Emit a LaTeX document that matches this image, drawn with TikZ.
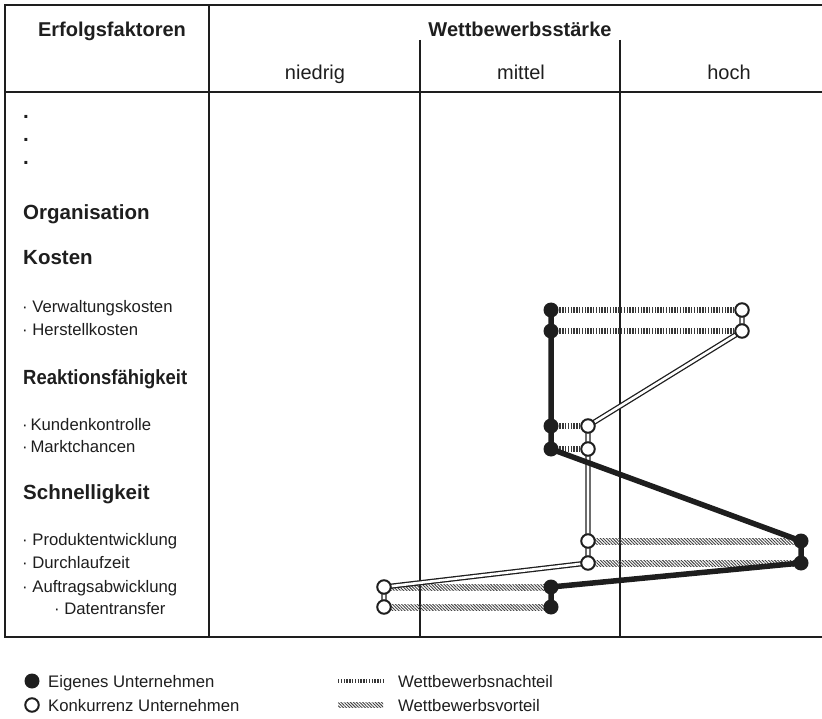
\documentclass[tikz,border=0pt]{standalone}
\usepackage{fontspec}
\setmainfont{Liberation Sans}
\usetikzlibrary{patterns.meta}
\definecolor{ink}{HTML}{1E1E1E}
\newcommand\hdrfont{\fontsize{20}{24}\selectfont\bfseries}
\newcommand\colfont{\fontsize{20}{24}\selectfont}
\newcommand\catfont{\fontsize{20.5}{24}\selectfont\bfseries}
\newcommand\itmfont{\fontsize{16.7}{20}\selectfont}
\tikzset{
  frame/.style={line width=2pt, ink},
  gridline/.style={line width=1.6pt, ink},
  txt/.style={inner sep=0pt, anchor=base west, text=ink},
  ctxt/.style={inner sep=0pt, anchor=base, text=ink},
  own/.style={circle, fill=ink, inner sep=0pt, minimum size=15pt},
  comp/.style={circle, draw=ink, fill=white, line width=2pt, inner sep=0pt, minimum size=13.5pt},
  ownline/.style={line width=5.5pt, ink},
  compline/.style={draw=ink, line width=1.3pt, double=white, double distance=2.6pt},
  nachteil/.style={line width=6pt, dash pattern=on 1.3pt off 1.5pt, black!78},
  vorteil/.style={pattern={Lines[angle=-45,distance=2.2pt,line width=0.9pt]}, pattern color=black!75},
}
\begin{document}
\begin{tikzpicture}[x=1pt,y=-1pt]
\useasboundingbox (0,0) rectangle (822,719);
% table
\draw[frame] (823,5) -- (5,5) -- (5,637) -- (823,637);
\draw[frame] (5,92) -- (823,92);
\draw[gridline] (209,5) -- (209,637);
\draw[gridline] (420,40) -- (420,637);
\draw[gridline] (620,40) -- (620,637);
% header
\node[ctxt, font=\hdrfont] (h1) at (112,37) {Erfolgsfaktoren};
\node[ctxt, font=\hdrfont] (h2) at (520,37) {Wettbewerbsstärke};
\node[ctxt, font=\colfont] (c1) at (315,80) {niedrig};
\node[ctxt, font=\colfont] (c2) at (521,80) {mittel};
\node[ctxt, font=\colfont] (c3) at (729,80) {hoch};
% left labels
\node[txt, font=\catfont] (d1) at (23,119) {.};
\node[txt, font=\catfont] (d2) at (23,142) {.};
\node[txt, font=\catfont] (d3) at (23,165) {.};
\node[txt, font=\catfont] (l1) at (23,219.5) {Organisation};
\node[txt, font=\catfont] (l2) at (23,265) {Kosten};
\node[txt, font=\itmfont] (l3) at (22,313) {· Verwaltungskosten};
\node[txt, font=\itmfont] (l4) at (22,336) {· Herstellkosten};
\node[txt, font=\catfont] (l5) at (23,384) {\scalebox{0.9}[1]{Reaktionsfähigkeit}};
\node[txt, font=\itmfont] (l6) at (22,430) {·\,Kundenkontrolle};
\node[txt, font=\itmfont] (l7) at (22,452) {·\,Marktchancen};
\node[txt, font=\catfont] (l8) at (23,499) {Schnelligkeit};
\node[txt, font=\itmfont] (l9) at (22,545) {· Produktentwicklung};
\node[txt, font=\itmfont] (l10) at (22,568) {· Durchlaufzeit};
\node[txt, font=\itmfont] (l11) at (22,592) {· Auftragsabwicklung};
\node[txt, font=\itmfont] (l12) at (54,614) {· Datentransfer};
% data points
\coordinate (o1) at (551,310); \coordinate (k1) at (742,310);
\coordinate (o2) at (551,331); \coordinate (k2) at (742,331);
\coordinate (o3) at (551,426); \coordinate (k3) at (588,426);
\coordinate (o4) at (551,449); \coordinate (k4) at (588,449);
\coordinate (o5) at (801,541); \coordinate (k5) at (588,541);
\coordinate (o6) at (801,563); \coordinate (k6) at (588,563);
\coordinate (o7) at (551,587); \coordinate (k7) at (384,587);
\coordinate (o8) at (551,607); \coordinate (k8) at (384,607);
% bands
\draw[nachteil] (o1) -- (k1);
\draw[nachteil] (o2) -- (k2);
\draw[nachteil] (o3) -- (k3);
\draw[nachteil] (o4) -- (k4);
\fill[vorteil] ([yshift=3pt]k5) rectangle ([yshift=-3pt]o5);
\fill[vorteil] ([yshift=3pt]k6) rectangle ([yshift=-3pt]o6);
\fill[vorteil] ([yshift=3pt]k7) rectangle ([yshift=-3pt]o7);
\fill[vorteil] ([yshift=3pt]k8) rectangle ([yshift=-3pt]o8);
% competitor profile
\draw[compline] (k1) -- (k2) -- (k3) -- (k4) -- (k5) -- (k6) -- (k7) -- (k8);
% own profile
\draw[ownline, line join=round] (o1) -- (o2) -- (o3) -- (o4) -- (o5) -- (o6) -- (o7) -- (o8);
% markers
\foreach \i in {1,...,8} {
  \node[own] (O\i) at (o\i) {};
  \node[comp] (K\i) at (k\i) {};
}
% legend
\node[own] (lo) at (32,681) {};
\node[txt, font=\itmfont] (lot) at (48,687) {Eigenes Unternehmen};
\node[comp] (lk) at (32,705) {};
\node[txt, font=\itmfont] (lkt) at (48,711) {Konkurrenz Unternehmen};
\coordinate (n1) at (338,681); \coordinate (n2) at (383,681);
\draw[nachteil, line width=4.5pt] (n1) -- (n2);
\node[txt, font=\itmfont] (lnt) at (398,687) {Wettbewerbsnachteil};
\coordinate (v1) at (338,705); \coordinate (v2) at (383,705);
\fill[vorteil] ([yshift=2.2pt]v1) rectangle ([yshift=-2.2pt]v2);
\node[txt, font=\itmfont] (lvt) at (398,711) {Wettbewerbsvorteil};
\end{tikzpicture}
\end{document}
